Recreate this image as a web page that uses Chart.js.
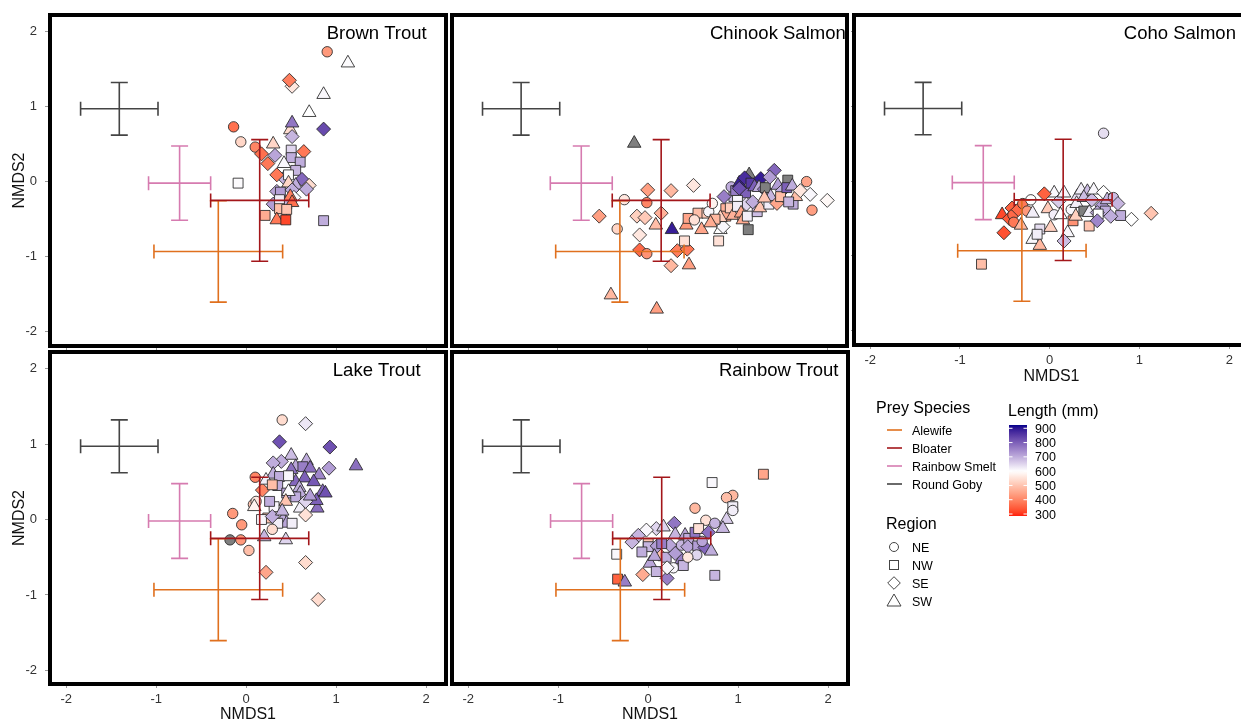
<!DOCTYPE html>
<html><head><meta charset="utf-8">
<script src="https://cdn.jsdelivr.net/npm/chart.js@4"></script>
<style>
html,body{margin:0;padding:0;background:#fff;overflow:hidden;width:1241px;height:724px;position:relative;}
canvas{position:absolute;}
#legend{position:absolute;left:0;top:0;pointer-events:none;}
</style></head><body>
<canvas id="c1"></canvas><canvas id="c2"></canvas><canvas id="c3"></canvas><canvas id="c4"></canvas><canvas id="c5"></canvas>
<svg id="legend" width="1241" height="724" xmlns="http://www.w3.org/2000/svg"></svg>
<script>
// ---------------- DATA ----------------
const axisTicks = [-2, -1, 0, 1, 2];
const preySpecies = ['Alewife', 'Bloater', 'Rainbow Smelt', 'Round Goby'];
const preyMeanX = [-0.31, 0.15, -0.74, -1.41];
const preyMeanY = [-0.93, -0.25, -0.02, 0.97];
const preySdX = [0.715, 0.545, 0.345, 0.43];
const preySdY = [0.675, 0.81, 0.495, 0.35];
const regions = ['NE', 'NW', 'SE', 'SW'];
const lengthTicks = [900, 800, 700, 600, 500, 400, 300];

// [NMDS1, NMDS2, region, length (mm) or null]
const brownTrout = [
[0.90,1.73,'NE',430],[1.13,1.58,'SW',605],[0.51,1.27,'SE',560],[0.48,1.35,'SE',390],[0.86,1.16,'SW',610],
[0.70,0.92,'SW',600],[-0.14,0.73,'NE',370],[0.49,0.69,'SW',540],[0.51,0.78,'SW',770],[0.86,0.70,'SE',830],
[0.51,0.60,'SE',690],[-0.06,0.53,'NE',530],[0.10,0.46,'NE',400],[0.30,0.50,'SW',530],[0.17,0.37,'SE',370],
[0.32,0.35,'SE',710],[0.50,0.42,'NW',650],[0.64,0.40,'SE',380],[0.50,0.32,'NW',700],[0.60,0.26,'NW',700],
[0.42,0.24,'SW',610],[0.24,0.24,'SE',380],[0.42,0.05,'SE',690],[0.55,0.15,'NW',690],[0.34,0.09,'SE',380],
[0.47,0.09,'NW',605],[0.62,0.03,'SE',790],[0.45,-0.30,'NW',690],[0.30,-0.30,'SE',720],[0.55,-0.05,'SW',700],
[-0.09,-0.02,'NW',605],[0.70,-0.05,'SE',540],[0.67,-0.10,'SE',700],[0.47,-0.02,'SW',530],[0.34,-0.13,'SE',710],
[0.38,-0.14,'NW',720],[0.51,-0.11,'SE',700],[0.53,-0.21,'SE',605],[0.49,-0.20,'SW',390],[0.37,-0.24,'NW',620],
[0.51,-0.28,'SW',370],[0.39,-0.42,'SW',540],[0.37,-0.36,'NW',490],[0.45,-0.37,'NW',500],[0.21,-0.45,'NW',460],
[0.34,-0.51,'SW',380],[0.44,-0.51,'NW',320],[0.86,-0.52,'NW',700]
];
const chinookSalmon = [
[-0.15,0.51,'SW',null],[0.00,-0.11,'SE',440],[0.26,-0.12,'SE',480],[0.51,-0.05,'SE',560],[-0.26,-0.24,'NE',560],
[-0.01,-0.28,'NE',400],[-0.54,-0.46,'SE',440],[-0.12,-0.46,'SE',520],[-0.03,-0.48,'SE',510],[0.15,-0.42,'SE',470],
[0.09,-0.58,'SW',490],[-0.34,-0.63,'NE',530],[0.27,-0.64,'SW',890],[-0.09,-0.71,'SE',560],[-0.09,-0.91,'SE',360],
[-0.01,-0.96,'NE',420],[0.33,-0.92,'SE',390],[0.44,-0.90,'SE',380],[0.41,-0.79,'NW',550],[0.26,-1.12,'SE',480],
[0.46,-1.11,'SW',440],[-0.41,-1.51,'SW',480],[0.10,-1.70,'SW',440],[0.43,-0.58,'SW',430],[0.45,-0.49,'NW',450],
[0.60,-0.64,'SW',450],[0.56,-0.42,'NW',490],[0.52,-0.51,'NE',550],[0.66,-0.42,'NW',510],[0.68,-0.40,'NE',610],
[0.72,-0.29,'NE',580],[0.81,-0.64,'SW',600],[0.79,-0.79,'NW',550],[0.84,-0.60,'SE',610],[0.87,-0.36,'NW',470],
[0.87,-0.46,'NW',460],[0.81,-0.48,'SW',520],[0.75,-0.50,'NW',480],[0.70,-0.55,'SW',460],[0.92,-0.35,'NW',520],
[0.95,-0.45,'SW',470],[0.96,-0.20,'NW',680],[0.85,-0.20,'SE',760],[0.93,-0.07,'NE',700],[0.98,-0.12,'NW',760],
[1.02,-0.02,'SW',890],[1.09,-0.15,'NW',800],[1.13,0.09,'SW',null],[1.08,0.05,'SE',870],[1.15,-0.02,'NW',850],
[1.26,0.04,'SE',890],[1.19,-0.07,'SW',800],[1.02,-0.09,'SE',820],[1.10,-0.30,'SE',650],[1.00,-0.25,'NW',610],
[1.00,-0.33,'NW',620],[1.06,-0.46,'NW',500],[1.04,-0.42,'SW',450],[1.06,-0.51,'SW',460],[1.11,-0.46,'NW',620],
[1.12,-0.64,'NW',null],[1.22,-0.40,'NW',680],[1.25,-0.35,'SW',500],[1.35,-0.30,'NW',620],[1.17,-0.27,'SE',700],
[1.24,-0.08,'SW',700],[1.30,-0.10,'SE',760],[1.31,-0.08,'NW',null],[1.41,0.15,'SE',790],[1.36,0.06,'SE',720],
[1.37,-0.20,'SW',690],[1.30,-0.22,'SW',500],[1.45,-0.05,'SW',720],[1.50,-0.12,'SE',700],[1.44,-0.29,'SE',450],
[1.48,-0.20,'NW',490],[1.56,0.02,'NW',null],[1.55,-0.08,'NW',800],[1.62,-0.30,'NW',700],[1.61,-0.06,'SW',700],
[1.65,-0.20,'SW',490],[1.57,-0.27,'NW',690],[1.70,-0.12,'SE',560],[1.77,0.00,'NE',450],[1.81,-0.17,'SE',610],
[1.83,-0.38,'NE',440],[2.00,-0.25,'SE',590]
];
const cohoSalmon = [
[0.60,0.64,'NE',640],[-0.76,-1.11,'NW',490],[1.13,-0.43,'SE',500],[0.91,-0.51,'SE',600],[-0.53,-0.45,'SW',320],
[-0.51,-0.69,'SE',330],[-0.45,-0.50,'SE',340],[-0.42,-0.36,'SE',350],[-0.41,-0.45,'NE',360],[-0.40,-0.55,'NE',380],
[-0.35,-0.38,'SE',360],[-0.30,-0.30,'NE',380],[-0.25,-0.40,'NE',430],[-0.32,-0.59,'SW',480],[-0.21,-0.25,'NE',600],
[-0.19,-0.43,'SW',620],[-0.19,-0.78,'SW',610],[-0.11,-0.86,'SW',480],[-0.11,-0.64,'NW',640],[-0.14,-0.71,'NW',620],
[-0.02,-0.37,'SW',510],[0.01,-0.62,'SW',520],[0.05,-0.45,'NE',620],[0.12,-0.45,'SW',600],[0.05,-0.16,'SW',610],
[0.10,-0.27,'SE',660],[0.16,-0.16,'SW',610],[0.24,-0.38,'NE',610],[0.20,-0.69,'SW',610],[0.16,-0.80,'SE',680],
[0.31,-0.20,'SW',640],[0.30,-0.30,'SW',620],[0.35,-0.12,'SW',620],[0.26,-0.53,'NW',420],[0.29,-0.47,'SW',520],
[0.38,-0.40,'NW',null],[0.42,-0.14,'SW',680],[0.38,-0.22,'SW',680],[0.47,-0.25,'SE',680],[0.44,-0.42,'SW',620],
[0.44,-0.60,'NW',500],[0.49,-0.12,'SW',610],[0.58,-0.33,'SE',720],[0.62,-0.40,'NW',700],[0.53,-0.42,'SE',700],
[0.54,-0.44,'NW',600],[0.53,-0.53,'SE',750],[0.60,-0.15,'SE',600],[0.64,-0.25,'SW',690],[0.71,-0.22,'NE',680],
[0.76,-0.30,'SE',690],[0.79,-0.46,'NW',700],[0.68,-0.47,'SE',700],[-0.06,-0.17,'SE',350]
];
const lakeTrout = [
[0.40,1.32,'NE',540],[0.66,1.27,'SE',630],[0.37,1.03,'SE',820],[0.93,0.96,'SE',820],[1.22,0.71,'SW',780],
[0.92,0.68,'SE',720],[0.50,0.85,'SW',680],[0.39,0.77,'SE',700],[0.30,0.75,'SE',700],[0.67,0.78,'SW',700],
[0.55,0.70,'SW',710],[0.50,0.66,'SW',780],[0.63,0.70,'NW',760],[0.71,0.68,'SW',780],[0.30,0.60,'SW',700],
[0.37,0.57,'NW',700],[0.81,0.59,'SW',750],[0.65,0.55,'SW',800],[0.55,0.50,'SW',790],[0.75,0.50,'SW',810],
[0.85,0.37,'SW',790],[0.88,0.35,'SW',820],[0.79,0.15,'SW',780],[0.78,0.25,'SW',800],[0.59,0.42,'SW',700],
[0.60,0.35,'SW',700],[0.35,0.45,'NW',700],[0.45,0.35,'NW',710],[0.55,0.30,'NW',700],[0.10,0.56,'NE',400],
[0.18,0.39,'SE',400],[0.22,0.52,'SW',620],[0.47,0.37,'SW',605],[0.29,0.46,'NW',490],[-0.15,0.08,'NE',430],
[-0.05,-0.07,'NE',430],[-0.18,-0.27,'NE',null],[-0.06,-0.27,'NE',430],[0.03,-0.41,'NE',490],[0.22,-0.70,'SE',450],
[0.66,-0.57,'SE',540],[0.80,-1.06,'SE',540],[0.20,-0.23,'SW',690],[0.44,-0.27,'SW',650],[0.31,0.17,'NW',610],
[0.24,0.02,'NW',500],[0.17,0.00,'NW',610],[0.41,0.00,'SW',700],[0.45,-0.05,'SW',710],[0.51,-0.05,'NW',620],
[0.35,-0.05,'NW',620],[0.29,0.04,'SE',700],[0.60,0.15,'SW',620],[0.26,0.24,'NW',700],[0.08,0.20,'NE',500],
[0.11,0.24,'NE',560],[0.44,0.24,'SW',500],[0.66,0.24,'SE',650],[0.71,0.31,'SW',720],[0.66,0.06,'SE',550],
[0.29,-0.13,'NE',540],[0.40,0.11,'SW',690],[0.47,0.58,'NW',610],[0.09,0.17,'SW',580]
];
const rainbowTrout = [
[1.28,0.60,'NW',450],[0.71,0.49,'NW',610],[0.94,0.32,'NE',480],[0.87,0.29,'NE',490],[0.94,0.17,'NW',620],
[0.94,0.12,'NE',620],[0.52,0.15,'NE',480],[0.87,0.00,'SW',660],[0.83,-0.12,'SW',690],[0.64,-0.01,'NE',550],
[0.74,-0.05,'NE',690],[-0.35,-0.46,'NW',610],[-0.34,-0.79,'NW',350],[-0.26,-0.83,'SW',760],[-0.06,-0.73,'SE',460],
[0.21,-0.78,'SE',760],[0.74,-0.74,'NW',690],[0.29,-0.05,'SE',770],[0.09,-0.12,'SE',650],[-0.02,-0.14,'SE',610],
[-0.11,-0.21,'SE',690],[0.00,-0.32,'NW',500],[0.00,-0.36,'NW',690],[0.02,-0.58,'SW',710],[0.09,-0.69,'NW',690],
[0.12,-0.46,'SE',500],[0.10,-0.35,'SE',720],[0.24,-0.34,'SE',710],[0.15,-0.32,'NW',760],[0.20,-0.50,'NW',700],
[0.37,-0.53,'SW',760],[0.28,-0.64,'NE',610],[0.30,-0.45,'SE',720],[0.30,-0.20,'SW',690],[0.37,-0.34,'NE',690],
[0.41,-0.21,'SW',710],[0.45,-0.25,'NW',700],[0.52,-0.17,'NW',770],[0.44,-0.36,'SE',710],[0.55,-0.35,'NW',720],
[0.54,-0.47,'NE',650],[0.63,-0.37,'SE',790],[0.70,-0.42,'SW',700],[0.60,-0.29,'NE',710],[0.56,-0.12,'NW',550],
[0.67,-0.17,'SE',780],[0.17,-0.10,'SW',650],[0.39,-0.61,'NW',690],[0.44,-0.50,'NE',560],[0.21,-0.64,'SE',610],
[0.07,-0.49,'SW',710],[-0.18,-0.30,'SE',690],[-0.07,-0.43,'NW',700]
];

// ---------------- STYLE ----------------
const FONT = '"Liberation Sans", Arial, Helvetica, sans-serif';
Chart.defaults.font.family = FONT;
const preyColors = ['#E0701E', '#A3161A', '#D67BB0', '#444444'];
const regionStyle = {NE: 'circle', NW: 'rect', SE: 'rectRot', SW: 'triangle'};
const styleRadius = {circle: 5.2, rect: 7, rectRot: 7, triangle: 7.8};
const titlePos = [1.45, 1.97];
const lenLimits = [286, 923], lenMid = 600;

// Lab colour interpolation (like ggplot gradient2)
function s2l(c){c/=255;return c<=0.04045?c/12.92:Math.pow((c+0.055)/1.055,2.4);}
function l2s(c){c=c<=0.0031308?12.92*c:1.055*Math.pow(c,1/2.4)-0.055;return Math.round(Math.max(0,Math.min(1,c))*255);}
function hex2rgb(h){return [parseInt(h.slice(1,3),16),parseInt(h.slice(3,5),16),parseInt(h.slice(5,7),16)];}
function rgb2lab(rgb){const [R,G,B]=rgb.map(s2l);
  const X=(0.4124*R+0.3576*G+0.1805*B)/0.95047,Y=0.2126*R+0.7152*G+0.0722*B,Z=(0.0193*R+0.1192*G+0.9505*B)/1.08883;
  const f=t=>t>0.008856?Math.cbrt(t):7.787*t+16/116;const fx=f(X),fy=f(Y),fz=f(Z);
  return [116*fy-16,500*(fx-fy),200*(fy-fz)];}
function lab2rgb([L,a,b]){const fy=(L+16)/116,fx=fy+a/500,fz=fy-b/200;
  const fi=t=>t>0.206893?t*t*t:(t-16/116)/7.787;
  const X=fi(fx)*0.95047,Y=fi(fy),Z=fi(fz)*1.08883;
  return [l2s(3.2406*X-1.5372*Y-0.4986*Z),l2s(-0.9689*X+1.8758*Y+0.0415*Z),l2s(0.0557*X-0.2040*Y+1.0570*Z)];}
const labLow=rgb2lab(hex2rgb('#FF0000')),labMid=rgb2lab(hex2rgb('#FFFFFF')),labHigh=rgb2lab(hex2rgb('#00008B'));
function lengthColor(v){
  if(v===null||v===undefined) return '#7F7F7F';
  const dev=Math.max(lenLimits[1]-lenMid,lenMid-lenLimits[0]);
  let t=Math.max(0,Math.min(1,0.5+(v-lenMid)/(2*dev)));
  let A,B,s; if(t<0.5){A=labLow;B=labMid;s=t/0.5;}else{A=labMid;B=labHigh;s=(t-0.5)/0.5;}
  const c=lab2rgb([A[0]+(B[0]-A[0])*s,A[1]+(B[1]-A[1])*s,A[2]+(B[2]-A[2])*s]);
  return 'rgb('+c.join(',')+')';
}

// ---------------- PLUGIN ----------------
const panelDecor = {
  id: 'panelDecor',
  afterDatasetsDraw(chart, args, opts) {
    const {ctx, chartArea: a} = chart; const sx = chart.scales.x, sy = chart.scales.y;
    ctx.save();
    ctx.lineWidth = 1.6; ctx.lineCap = 'butt';
    const capW = 8.5, capH = 7;
    for (let i = 0; i < preySpecies.length; i++) {
      const cx = sx.getPixelForValue(preyMeanX[i]), cy = sy.getPixelForValue(preyMeanY[i]);
      const x0 = sx.getPixelForValue(preyMeanX[i] - preySdX[i]), x1 = sx.getPixelForValue(preyMeanX[i] + preySdX[i]);
      const y0 = sy.getPixelForValue(preyMeanY[i] + preySdY[i]), y1 = sy.getPixelForValue(preyMeanY[i] - preySdY[i]);
      ctx.strokeStyle = preyColors[i];
      ctx.beginPath();
      ctx.moveTo(x0, cy); ctx.lineTo(x1, cy);
      ctx.moveTo(x0, cy - capH); ctx.lineTo(x0, cy + capH);
      ctx.moveTo(x1, cy - capH); ctx.lineTo(x1, cy + capH);
      ctx.moveTo(cx, y0); ctx.lineTo(cx, y1);
      ctx.moveTo(cx - capW, y0); ctx.lineTo(cx + capW, y0);
      ctx.moveTo(cx - capW, y1); ctx.lineTo(cx + capW, y1);
      ctx.stroke();
    }
    ctx.font = '18.5px ' + FONT; ctx.fillStyle = '#000';
    ctx.textAlign = 'center'; ctx.textBaseline = 'middle';
    ctx.fillText(opts.title, sx.getPixelForValue(titlePos[0]), sy.getPixelForValue(titlePos[1]));
    ctx.lineWidth = 4; ctx.strokeStyle = '#000'; ctx.lineJoin = 'miter';
    ctx.strokeRect(a.left, a.top, a.right - a.left, a.bottom - a.top);
    ctx.restore();
  }
};
Chart.register(panelDecor);

const panels = [
  {id:'c1', data:brownTrout, title:'Brown Trout', left:0, top:0, w:450, h:350, pr:4, wy:50, hx:4, yLab:true, xLab:false, yMin:-2.19, yMax:2.22, xtp:0},
  {id:'c2', data:chinookSalmon, title:'Chinook Salmon', left:450, top:0, w:400, h:350, pr:3, wy:2, hx:4, yLab:false, xLab:false, yMin:-2.19, yMax:2.22, xtp:0},
  {id:'c3', data:cohoSalmon, title:'Coho Salmon', left:850, top:0, w:402, h:390, pr:3, wy:4, hx:45, yLab:false, xLab:true, yMin:-2.19, yMax:2.22, xtp:4},
  {id:'c4', data:lakeTrout, title:'Lake Trout', left:0, top:337, w:450, h:387, pr:4, wy:50, hx:40, yLab:true, xLab:true, yMin:-2.18, yMax:2.22, xtp:0},
  {id:'c5', data:rainbowTrout, title:'Rainbow Trout', left:450, top:337, w:400, h:387, pr:2, wy:2, hx:40, yLab:false, xLab:true, yMin:-2.18, yMax:2.22, xtp:0}
];

const tickFont = {size: 13, family: FONT};
const titleFont = {size: 16, family: FONT};
panels.forEach(p => {
  const cv = document.getElementById(p.id);
  cv.width = p.w; cv.height = p.h;
  cv.style.left = p.left + 'px'; cv.style.top = p.top + 'px';
  cv.style.width = p.w + 'px'; cv.style.height = p.h + 'px';
  const pts = p.data.map(d => ({x: d[0], y: d[1], region: d[2], len: d[3]}));
  const st = c => (c.raw ? regionStyle[c.raw.region] : 'circle');
  new Chart(cv, {
    type: 'scatter',
    data: {datasets: [{
      data: pts,
      pointStyle: st,
      pointRadius: c => styleRadius[st(c)],
      pointHoverRadius: c => styleRadius[st(c)],
      backgroundColor: c => (c.raw ? lengthColor(c.raw.len) : '#fff'),
      borderColor: '#262626',
      borderWidth: 0.85
    }]},
    options: {
      responsive: false, animation: false, events: [],
      layout: {autoPadding: false, padding: {left: 0, top: 15, right: p.pr, bottom: 0}},
      plugins: {legend: {display: false}, tooltip: {enabled: false}, panelDecor: {title: p.title}},
      scales: {
        x: {
          type: 'linear', min: -2.18, max: 2.22,
          afterBuildTicks: s => { s.ticks = axisTicks.map(v => ({value: v})); },
          afterFit: s => { s.height = p.hx; s.paddingLeft = 0; s.paddingRight = 0; s.paddingTop = 0; s.paddingBottom = 0; },
          ticks: {display: p.xLab, font: tickFont, color: '#333', padding: 4, maxRotation: 0},
          grid: {display: true, drawOnChartArea: false, drawTicks: true, tickLength: 4, color: '#999'},
          border: {display: false},
          title: {display: p.xLab, text: 'NMDS1', font: titleFont, color: '#111', padding: {top: 0, bottom: p.xtp}}
        },
        y: {
          type: 'linear', min: p.yMin, max: p.yMax,
          afterBuildTicks: s => { s.ticks = axisTicks.map(v => ({value: v})); },
          afterFit: s => { s.width = p.wy; s.paddingLeft = 0; s.paddingRight = 0; s.paddingTop = 0; s.paddingBottom = 0; },
          ticks: {display: p.yLab, font: tickFont, color: '#333', padding: 8},
          grid: {display: true, drawOnChartArea: false, drawTicks: true, tickLength: p.yLab ? 5 : 3, color: '#999'},
          border: {display: false},
          title: {display: p.yLab, text: 'NMDS2', font: titleFont, color: '#111', padding: {top: 10, bottom: 0}}
        }
      }
    }
  });
});

// ---------------- LEGEND ----------------
const svg = document.getElementById('legend');
const NS = 'http://www.w3.org/2000/svg';
function el(tag, attrs, text) {
  const e = document.createElementNS(NS, tag);
  for (const k in attrs) e.setAttribute(k, attrs[k]);
  if (text !== undefined) e.textContent = text;
  svg.appendChild(e); return e;
}
const txt = (x, y, s, size) => el('text', {x, y, 'font-family': 'Liberation Sans, Arial, sans-serif', 'font-size': size, fill: '#000'}, s);

txt(876, 413, 'Prey Species', 16);
const preyRows = [430, 448, 466, 484];
preySpecies.forEach((s, i) => {
  el('line', {x1: 887, x2: 902, y1: preyRows[i], y2: preyRows[i], stroke: preyColors[i], 'stroke-width': 1.6});
  txt(912, preyRows[i] + 4.5, s, 12.5);
});

txt(1008, 416, 'Length (mm)', 16);
const barTop = 425, barBot = 516, barX = 1009, barW = 18;
const vToY = v => barBot - (v - lenLimits[0]) / (lenLimits[1] - lenLimits[0]) * (barBot - barTop);
const defs = el('defs', {});
const grad = document.createElementNS(NS, 'linearGradient');
grad.setAttribute('id', 'lg'); grad.setAttribute('x1', '0'); grad.setAttribute('y1', '0'); grad.setAttribute('x2', '0'); grad.setAttribute('y2', '1');
for (let i = 0; i <= 40; i++) {
  const f = i / 40; const v = lenLimits[1] - f * (lenLimits[1] - lenLimits[0]);
  const stp = document.createElementNS(NS, 'stop');
  stp.setAttribute('offset', f); stp.setAttribute('stop-color', lengthColor(v));
  grad.appendChild(stp);
}
defs.appendChild(grad);
el('rect', {x: barX, y: barTop, width: barW, height: barBot - barTop, fill: 'url(#lg)'});
lengthTicks.forEach(v => {
  const y = vToY(v);
  el('line', {x1: barX, x2: barX + 3.5, y1: y, y2: y, stroke: '#fff', 'stroke-width': 1});
  el('line', {x1: barX + barW - 3.5, x2: barX + barW, y1: y, y2: y, stroke: '#fff', 'stroke-width': 1});
  txt(1035, y + 4.5, String(v), 12.5);
});

txt(886, 529, 'Region', 16);
const regRows = [547, 565, 583, 601];
const symStroke = {fill: 'none', stroke: '#444', 'stroke-width': 1};
regions.forEach((r, i) => {
  const cx = 894, cy = regRows[i];
  const shp = regionStyle[r];
  if (shp === 'circle') el('circle', Object.assign({cx, cy, r: 4.5}, symStroke));
  else if (shp === 'rect') el('rect', Object.assign({x: cx - 4.5, y: cy - 4.5, width: 9, height: 9}, symStroke));
  else if (shp === 'rectRot') el('polygon', Object.assign({points: `${cx-6.3},${cy} ${cx},${cy-6.3} ${cx+6.3},${cy} ${cx},${cy+6.3}`}, symStroke));
  else el('polygon', Object.assign({points: `${cx},${cy-7} ${cx+7},${cy+5} ${cx-7},${cy+5}`}, symStroke));
  txt(912, cy + 4.5, r, 12.5);
});
</script>
</body></html>
